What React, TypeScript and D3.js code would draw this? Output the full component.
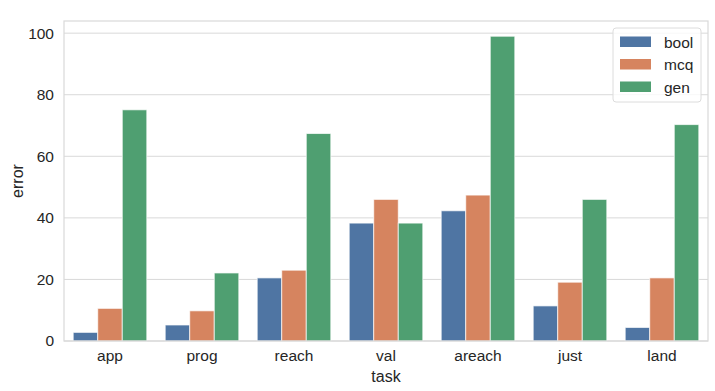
import React, { useEffect, useRef } from 'react';
import * as d3 from 'd3';

// categories and series
const tasks = ['app', 'prog', 'reach', 'val', 'areach', 'just', 'land'];
const series = ['bool', 'mcq', 'gen'];
const boolValues = [2.8, 5.2, 20.5, 38.3, 42.3, 11.4, 4.4];
const mcqValues = [10.6, 9.8, 23.0, 46.0, 47.4, 19.1, 20.5];
const genValues = [75.1, 22.1, 67.4, 38.3, 99.0, 46.0, 70.3];
const yTicks = [0, 20, 40, 60, 80, 100];
const colors = ['#4f75a3', '#d6845f', '#4f9f71'];

const App = () => {
    const ref = useRef<SVGSVGElement>(null);

    useEffect(() => {
        var w = 715,
            h = 391;
        var margin = { top: 21, right: 7, bottom: 50, left: 64 };
        var font = '"Liberation Sans", Arial, sans-serif';
        var textColor = '#262626';
        var lineColor = '#d9d9d9';

        var svg = d3.select(ref.current);
        svg.selectAll('*').remove();

        var valuesBySeries = [boolValues, mcqValues, genValues];
        var rows = tasks.map((t, i) => ({
            task: t,
            vals: series.map((s, j) => ({ key: s, value: valuesBySeries[j][i] })),
        }));

        var maxValue = d3.max(genValues.concat(mcqValues, boolValues)) as number;

        var xScale = d3.scaleBand()
            .domain(tasks)
            .range([margin.left, w - margin.right])
            .paddingInner(0.2)
            .paddingOuter(0.1);

        var hueScale = d3.scaleBand()
            .domain(series)
            .range([0, xScale.bandwidth()]);

        var yScale = d3.scaleLinear()
            .domain([0, maxValue * 1.05])
            .range([h - margin.bottom, margin.top]);

        var color = d3.scaleOrdinal<string>().domain(series).range(colors);

        // grid lines
        svg.append('g')
            .selectAll('line')
            .data(yTicks)
            .enter().append('line')
            .attr('x1', margin.left)
            .attr('x2', w - margin.right)
            .attr('y1', (d) => yScale(d))
            .attr('y2', (d) => yScale(d))
            .attr('stroke', lineColor)
            .attr('stroke-width', 1);

        // bars
        var groups = svg.append('g')
            .selectAll('g')
            .data(rows)
            .enter().append('g')
            .attr('transform', (d) => 'translate(' + xScale(d.task) + ',0)');

        groups.selectAll('rect')
            .data((d) => d.vals)
            .enter().append('rect')
            .attr('x', (d) => hueScale(d.key) as number)
            .attr('y', (d) => yScale(d.value))
            .attr('width', hueScale.bandwidth())
            .attr('height', (d) => yScale(0) - yScale(d.value))
            .attr('fill', (d) => color(d.key))
            .attr('stroke', '#ffffff')
            .attr('stroke-opacity', 0.7)
            .attr('stroke-width', 1);

        // frame
        svg.append('rect')
            .attr('x', margin.left)
            .attr('y', margin.top)
            .attr('width', w - margin.left - margin.right)
            .attr('height', h - margin.top - margin.bottom)
            .attr('fill', 'none')
            .attr('stroke', lineColor)
            .attr('stroke-width', 1.2);

        // axes
        var yAxis = svg.append('g')
            .attr('transform', 'translate(' + margin.left + ',0)')
            .call(d3.axisLeft(yScale).tickValues(yTicks).tickSize(0).tickPadding(10));
        yAxis.select('.domain').remove();
        yAxis.selectAll('text')
            .attr('font-family', font)
            .attr('font-size', 15.5)
            .attr('fill', textColor);

        var xAxis = svg.append('g')
            .attr('transform', 'translate(0,' + (h - margin.bottom) + ')')
            .call(d3.axisBottom(xScale).tickSize(0).tickPadding(9));
        xAxis.select('.domain').remove();
        xAxis.selectAll('text')
            .attr('font-family', font)
            .attr('font-size', 15.5)
            .attr('fill', textColor);

        // axis labels
        svg.append('text')
            .attr('x', (margin.left + w - margin.right) / 2)
            .attr('y', 382)
            .attr('text-anchor', 'middle')
            .attr('font-family', font)
            .attr('font-size', 16)
            .attr('fill', textColor)
            .text('task');

        svg.append('text')
            .attr('transform', 'translate(23,181) rotate(-90)')
            .attr('text-anchor', 'middle')
            .attr('font-family', font)
            .attr('font-size', 16)
            .attr('fill', textColor)
            .text('error');

        // legend
        var legend = svg.append('g').attr('transform', 'translate(613,28)');
        legend.append('rect')
            .attr('width', 88)
            .attr('height', 74)
            .attr('rx', 3)
            .attr('fill', '#ffffff')
            .attr('fill-opacity', 0.8)
            .attr('stroke', '#dcdcdc')
            .attr('stroke-width', 1);

        var items = legend.selectAll('g.item')
            .data(series)
            .enter().append('g')
            .attr('class', 'item')
            .attr('transform', (d, i) => 'translate(0,' + (14 + i * 22.5) + ')');

        items.append('rect')
            .attr('x', 7)
            .attr('y', -5.5)
            .attr('width', 31)
            .attr('height', 10.5)
            .attr('fill', (d) => color(d));

        items.append('text')
            .attr('x', 51)
            .attr('y', 5.5)
            .attr('font-family', font)
            .attr('font-size', 15.5)
            .attr('fill', textColor)
            .text((d) => d);
    }, []);

    return (
        <svg
            ref={ref}
            width={715}
            height={391}
            style={{ position: 'absolute', left: 0, top: 0, background: '#ffffff' }}
        />
    );
};

export default App;
